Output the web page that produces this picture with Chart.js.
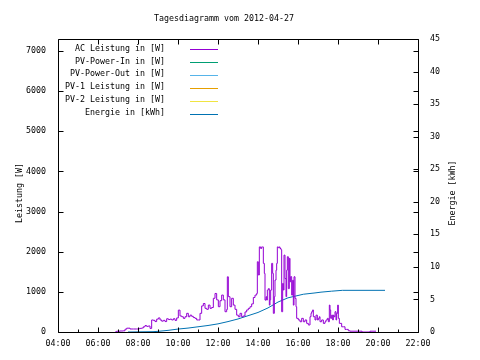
<!DOCTYPE html>
<html>
<head>
<meta charset="utf-8">
<script src="https://cdn.jsdelivr.net/npm/chart.js@4/dist/chart.umd.min.js"></script>
<style>
html,body{margin:0;padding:0;background:#fff;}
#wrap{width:480px;height:360px;position:relative;}
</style>
</head>
<body>
<div id="wrap"><canvas id="c" width="480" height="360"></canvas></div>
<script>
const chartTitle = "Tagesdiagramm vom 2012-04-27";
const leftAxisTitle = "Leistung [W]";
const rightAxisTitle = "Energie [kWh]";
const seriesLabels = ["AC Leistung in [W]", "PV-Power-In in [W]", "PV-Power-Out in [W]", "PV-1 Leistung in [W]", "PV-2 Leistung in [W]", "Energie in [kWh]"];
const seriesColors = ["#9400d3", "#009e73", "#56b4e9", "#e69f00", "#f0e442", "#0072b2"];
const leftTicks = [0, 1000, 2000, 3000, 4000, 5000, 6000, 7000];
const rightTicks = [0, 5, 10, 15, 20, 25, 30, 35, 40, 45];
const hourTicks = [4, 6, 8, 10, 12, 14, 16, 18, 20, 22];

const acTimes = ["06:51","06:56","07:06","07:16","07:21","07:26","07:36","07:46","07:56","08:04","08:11","08:16","08:21","08:26","08:31","08:36","08:41","08:46","08:51","08:56","09:01","09:06","09:11","09:16","09:21","09:26","09:31","09:36","09:41","09:46","09:51","09:56","10:01","10:06","10:11","10:16","10:21","10:26","10:31","10:36","10:41","10:46","10:51","10:56","11:01","11:06","11:11","11:16","11:21","11:26","11:31","11:36","11:41","11:46","11:51","11:56","12:01","12:06","12:11","12:16","12:21","12:26","12:28","12:31","12:36","12:41","12:46","12:51","12:56","13:01","13:06","13:11","13:16","13:21","13:26","13:31","13:36","13:41","13:46","13:51","13:56","13:58","14:01","14:04","14:08","14:11","14:14","14:16","14:19","14:21","14:24","14:26","14:28","14:31","14:34","14:36","14:38","14:41","14:44","14:46","14:49","14:51","14:54","14:56","14:58","15:01","15:04","15:06","15:09","15:11","15:14","15:16","15:18","15:21","15:24","15:26","15:28","15:31","15:34","15:36","15:38","15:41","15:44","15:46","15:48","15:51","15:54","15:56","16:01","16:06","16:11","16:16","16:21","16:26","16:31","16:36","16:39","16:41","16:44","16:46","16:51","16:54","16:58","17:01","17:04","17:06","17:11","17:16","17:21","17:24","17:28","17:31","17:34","17:36","17:38","17:41","17:44","17:46","17:48","17:51","17:54","17:56","17:59","18:01","18:04","18:06","18:11","18:16","18:21","18:26","18:31","18:36","18:42","19:12","19:36","19:54"];
const acPower = [0,20,25,30,70,95,75,75,75,90,100,130,160,140,150,90,300,290,260,320,350,300,270,290,260,330,310,320,300,330,290,350,545,400,380,340,380,465,380,420,390,360,340,300,300,465,650,710,590,565,670,590,610,840,960,800,630,780,920,800,505,560,1375,880,630,840,670,565,420,380,465,380,400,500,550,590,630,700,860,920,960,1750,1420,2120,2080,2120,2120,1710,1460,795,880,795,1045,1080,670,800,1045,1710,1460,465,880,1295,1540,1710,2120,2100,2120,2080,2050,505,1210,1045,1915,1330,880,1540,1875,1080,1835,1250,1380,920,1290,670,1376,840,630,340,300,256,340,256,300,215,175,380,465,505,550,380,300,420,300,340,380,256,300,215,256,300,340,256,670,550,340,420,300,420,380,505,300,465,670,340,215,215,130,130,65,65,30,20,20,0,20,20];

const energyTimes = ["07:30","08:45","09:00","09:30","10:00","10:30","11:00","11:30","12:00","12:30","13:00","13:30","14:00","14:30","15:00","15:30","15:51","16:16","16:51","17:09","17:41","18:13","20:21"];
const energyKWh = [0,0.05,0.1,0.25,0.45,0.6,0.8,1.0,1.25,1.6,2.0,2.5,3.0,3.7,4.6,5.25,5.5,5.8,6.0,6.12,6.27,6.4,6.4];

function toHours(t){ const p = t.split(":"); return +p[0] + (+p[1])/60; }
function pad2(n){ return (n < 10 ? "0" : "") + n; }

const FONT = "DejaVu Sans Mono";
const FSIZE = 8.3;
Chart.defaults.font.family = FONT;
Chart.defaults.font.size = FSIZE;
Chart.defaults.color = "#000";

const acData = acTimes.map((t, i) => ({x: toHours(t), y: acPower[i]}));
const enData = energyTimes.map((t, i) => ({x: toHours(t), y: energyKWh[i]}));

const datasets = seriesLabels.map((lab, i) => ({
  label: lab,
  data: i === 0 ? acData : (i === 5 ? enData : []),
  borderColor: seriesColors[i],
  backgroundColor: seriesColors[i],
  borderWidth: 1,
  pointRadius: 0,
  fill: false,
  stepped: i === 0,
  tension: 0,
  yAxisID: i === 5 ? "y2" : "y"
}));

const framePlugin = {
  id: "frame",
  afterDraw(chart){
    const ctx = chart.ctx;
    const a = chart.chartArea;
    const sx = chart.scales.x, sy = chart.scales.y, sy2 = chart.scales.y2;
    const L = Math.round(a.left) + 0.5, R = Math.round(a.right) + 0.5;
    const T = Math.round(a.top) + 0.5, B = Math.round(a.bottom) + 0.5;
    ctx.save();
    ctx.strokeStyle = "#000";
    ctx.lineWidth = 1;
    ctx.beginPath();
    ctx.rect(L, T, R - L, B - T);
    leftTicks.forEach(v => {
      const y = Math.round(sy.getPixelForValue(v)) + 0.5;
      ctx.moveTo(L, y); ctx.lineTo(L + 5, y);
      ctx.moveTo(R, y); ctx.lineTo(R - 5, y);
    });
    rightTicks.forEach(v => {
      const y = Math.round(sy2.getPixelForValue(v)) + 0.5;
      ctx.moveTo(R, y); ctx.lineTo(R - 5, y);
    });
    for (let h = 4; h <= 22; h++) {
      const x = Math.round(sx.getPixelForValue(h)) + 0.5;
      const len = (h % 2 === 0) ? 5 : 3;
      ctx.moveTo(x, B); ctx.lineTo(x, B - len);
      if (h % 2 === 0) { ctx.moveTo(x, T); ctx.lineTo(x, T + 5); }
    }
    ctx.stroke();

    ctx.font = FSIZE + "px '" + FONT + "'";
    ctx.textAlign = "right";
    ctx.textBaseline = "middle";
    chart.data.datasets.forEach((ds, i) => {
      const y = 48.5 + i * 12.9;
      ctx.fillStyle = "#000";
      ctx.fillText(ds.label, 165, y);
      ctx.strokeStyle = ds.borderColor;
      ctx.beginPath();
      const ly = Math.round(y + 0.8) + 0.5;
      ctx.moveTo(190, ly); ctx.lineTo(218, ly);
      ctx.stroke();
    });

    ctx.fillStyle = "#000";
    ctx.textAlign = "center";
    ctx.fillText(chartTitle, 224, 18.5);

    ctx.save();
    ctx.translate(19.5, 193);
    ctx.rotate(-Math.PI / 2);
    ctx.fillText(leftAxisTitle, 0, 0);
    ctx.restore();
    ctx.save();
    ctx.translate(452.5, 193);
    ctx.rotate(-Math.PI / 2);
    ctx.fillText(rightAxisTitle, 0, 0);
    ctx.restore();
    ctx.restore();
  }
};

new Chart(document.getElementById("c"), {
  type: "line",
  data: { datasets },
  options: {
    responsive: false,
    animation: false,
    events: [],
    layout: { padding: { top: 39, left: 0, right: 0, bottom: 0 } },
    plugins: { legend: { display: false }, title: { display: false }, tooltip: { enabled: false } },
    scales: {
      x: {
        type: "linear", min: 4, max: 22,
        grid: { display: false, drawTicks: false },
        border: { display: false },
        afterBuildTicks: s => { s.ticks = hourTicks.map(v => ({value: v})); },
        ticks: { padding: 7, maxRotation: 0, autoSkip: false, callback: v => pad2(v) + ":00" },
        afterFit: s => { s.height = 28; }
      },
      y: {
        type: "linear", position: "left", min: 0, max: 7300,
        grid: { display: false, drawTicks: false },
        border: { display: false },
        afterBuildTicks: s => { s.ticks = leftTicks.map(v => ({value: v})); },
        ticks: { padding: 12, autoSkip: false, callback: v => String(v) },
        afterFit: s => { s.width = 58; }
      },
      y2: {
        type: "linear", position: "right", min: 0, max: 45,
        grid: { display: false, drawTicks: false },
        border: { display: false },
        afterBuildTicks: s => { s.ticks = rightTicks.map(v => ({value: v})); },
        ticks: { padding: 12, autoSkip: false, callback: v => String(v) },
        afterFit: s => { s.width = 62; }
      }
    }
  },
  plugins: [framePlugin]
});
</script>
</body>
</html>
